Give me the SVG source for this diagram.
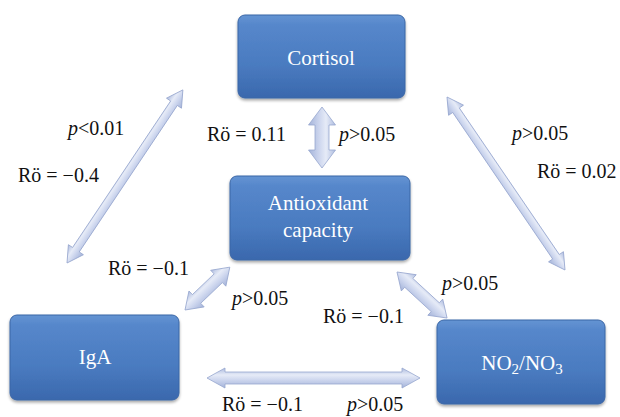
<svg xmlns="http://www.w3.org/2000/svg" width="620" height="417" viewBox="0 0 620 417">
  <defs>
    <linearGradient id="boxg" x1="0" y1="0" x2="0" y2="1">
      <stop offset="0" stop-color="#6494d3"/>
      <stop offset="0.12" stop-color="#5687cb"/>
      <stop offset="0.6" stop-color="#4a7bc0"/>
      <stop offset="1" stop-color="#3a68ad"/>
    </linearGradient>
    <linearGradient id="arrg" x1="0" y1="0" x2="0" y2="1">
      <stop offset="0" stop-color="#aebcdf"/>
      <stop offset="0.35" stop-color="#e6ebf7"/>
      <stop offset="0.6" stop-color="#cdd6ee"/>
      <stop offset="1" stop-color="#a4b3d9"/>
    </linearGradient>
    <filter id="sh" x="-10%" y="-10%" width="120%" height="125%">
      <feGaussianBlur in="SourceAlpha" stdDeviation="1.5"/>
      <feOffset dx="0" dy="2" result="b"/>
      <feComponentTransfer><feFuncA type="linear" slope="0.35"/></feComponentTransfer>
      <feMerge><feMergeNode/><feMergeNode in="SourceGraphic"/></feMerge>
    </filter>
  </defs>
  <style>
    .box { fill: url(#boxg); stroke: #3b66a6; stroke-width: 1; filter: url(#sh); }
    .btxt { font-family: "Liberation Serif", "DejaVu Serif", serif; font-size: 21px; fill: #ffffff; text-anchor: middle; }
    .arr { fill: url(#arrg); stroke: #97a7cf; stroke-width: 0.8; stroke-linejoin: miter; }
    .lbl { font-family: "Liberation Serif", "DejaVu Serif", serif; font-size: 20px; fill: #111111; }
    .it { font-style: italic; }
  </style>

  <g id="connectors">
    <!-- Cortisol - IgA -->
    <g transform="translate(67,263) rotate(-56.2)">
      <path class="arr" d="M0,0 L16,-9 L16,-4 L192.3,-4 L192.3,-9 L208.3,0 L192.3,9 L192.3,4 L16,4 L16,9 Z"/>
    </g>
    <!-- Cortisol - NO2/NO3 -->
    <g transform="translate(447,97) rotate(55.7)">
      <path class="arr" d="M0,0 L16,-9 L16,-4 L193.4,-4 L193.4,-9 L209.4,0 L193.4,9 L193.4,4 L16,4 L16,9 Z"/>
    </g>
    <!-- Cortisol - Antioxidant -->
    <g transform="translate(322,107) rotate(90)">
      <path class="arr" d="M0,0 L18,-13.5 L18,-7 L43,-7 L43,-13.5 L61,0 L43,13.5 L43,7 L18,7 L18,13.5 Z"/>
    </g>
    <!-- Antioxidant - IgA -->
    <g transform="translate(185,310) rotate(-43.7)">
      <path class="arr" d="M0,0 L16,-11 L16,-6 L46,-6 L46,-11 L62,0 L46,11 L46,6 L16,6 L16,11 Z"/>
    </g>
    <!-- Antioxidant - NO2/NO3 -->
    <g transform="translate(397,272) rotate(42.6)">
      <path class="arr" d="M0,0 L16,-11 L16,-6 L52,-6 L52,-11 L68,0 L52,11 L52,6 L16,6 L16,11 Z"/>
    </g>
    <!-- IgA - NO2/NO3 -->
    <g transform="translate(207,378)">
      <path class="arr" d="M0,0 L18,-10 L18,-6 L195,-6 L195,-10 L213,0 L195,10 L195,6 L18,6 L18,10 Z"/>
    </g>
  </g>

  <g id="cortisol">
    <rect class="box" x="238" y="15" width="167" height="83" rx="7"/>
    <text class="btxt" x="321" y="65" font-family="Liberation Serif, serif">Cortisol</text>
  </g>
  <g id="antioxidant">
    <rect class="box" x="230" y="176" width="180" height="84" rx="7"/>
    <text class="btxt" x="318" y="210" font-family="Liberation Serif, serif">Antioxidant</text>
    <text class="btxt" x="318" y="237" font-family="Liberation Serif, serif">capacity</text>
  </g>
  <g id="iga">
    <rect class="box" x="10" y="315" width="169" height="85" rx="7"/>
    <text class="btxt" x="95" y="364" font-family="Liberation Serif, serif">IgA</text>
  </g>
  <g id="no2no3">
    <rect class="box" x="437" y="320" width="168" height="84" rx="7"/>
    <text class="btxt" x="522" y="370" font-family="Liberation Serif, serif">NO<tspan font-size="15" dy="4">2</tspan><tspan dy="-4">/NO</tspan><tspan font-size="15" dy="4">3</tspan></text>
  </g>

  <g id="labels" font-family="Liberation Serif, serif" style="font-family: 'Liberation Serif', serif">
    <text class="lbl" x="68" y="135"><tspan class="it">p</tspan>&lt;0.01</text>
    <text class="lbl" x="18" y="182">Rö = −0.4</text>
    <text class="lbl" x="207" y="141">Rö = 0.11</text>
    <text class="lbl" x="339" y="141"><tspan class="it">p</tspan>&gt;0.05</text>
    <text class="lbl" x="512" y="140"><tspan class="it">p</tspan>&gt;0.05</text>
    <text class="lbl" x="537" y="178">Rö = 0.02</text>
    <text class="lbl" x="108" y="275">Rö = −0.1</text>
    <text class="lbl" x="232" y="305"><tspan class="it">p</tspan>&gt;0.05</text>
    <text class="lbl" x="442" y="290"><tspan class="it">p</tspan>&gt;0.05</text>
    <text class="lbl" x="323" y="323">Rö = −0.1</text>
    <text class="lbl" x="222" y="411">Rö = −0.1</text>
    <text class="lbl" x="347" y="411"><tspan class="it">p</tspan>&gt;0.05</text>
  </g>
</svg>
